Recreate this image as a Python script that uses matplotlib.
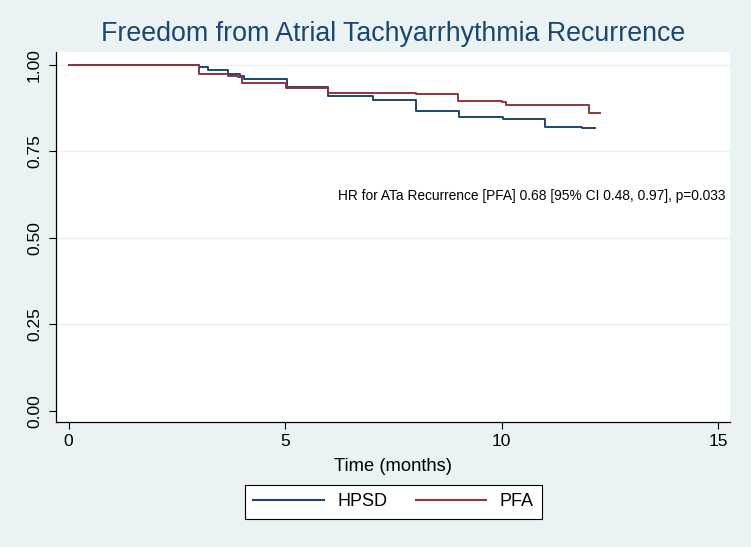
import matplotlib
matplotlib.use("Agg")
import matplotlib.pyplot as plt

plt.rcParams['font.family'] = ['Liberation Sans', 'DejaVu Sans']

# Data (Kaplan-Meier step curves)
hpsd_t = [0, 3.0, 3.21, 3.69, 3.96, 4.04, 5.04, 6.0, 7.02, 8.03, 9.01, 10.02, 11.01, 11.85, 12.16]
hpsd_s = [1.0, 0.994, 0.985, 0.975, 0.969, 0.959, 0.936, 0.909, 0.899, 0.866, 0.851, 0.845, 0.822, 0.818, 0.818]
pfa_t = [0, 3.01, 3.68, 3.92, 4.0, 5.02, 6.0, 8.03, 9.0, 10.0, 10.1, 11.7, 12.02, 12.26]
pfa_s = [1.0, 0.974, 0.969, 0.964, 0.947, 0.933, 0.920, 0.915, 0.895, 0.892, 0.885, 0.883, 0.861, 0.861]
series_names = ["HPSD", "PFA"]
xticks = [0, 5, 10, 15]
yticks = [0.00, 0.25, 0.50, 0.75, 1.00]
ytick_labels = ["0.00", "0.25", "0.50", "0.75", "1.00"]
title = "Freedom from Atrial Tachyarrhythmia Recurrence"
xlabel = "Time (months)"
note = "HR for ATa Recurrence [PFA] 0.68 [95% CI 0.48, 0.97], p=0.033"

bg = "#EAF2F3"
navy = "#1A476F"
maroon = "#90353B"

W, H = 751, 547
fig = plt.figure(figsize=(W / 100, H / 100), dpi=100, facecolor=bg)
L, R, T, B = 56, 730, 52, 422
ax = fig.add_axes([L / W, 1 - B / H, (R - L) / W, (B - T) / H])
ax.set_facecolor("white")

ax.set_xlim(-0.29, 15.27)
ax.set_ylim(-0.032, 1.0375)

for y in [0.25, 0.5, 0.75, 1.0]:
    ax.axhline(y, color=bg, lw=1.0, zorder=0)

l1, = ax.step(hpsd_t, hpsd_s, where='post', color=navy, lw=1.4, label=series_names[0])
l2, = ax.step(pfa_t, pfa_s, where='post', color=maroon, lw=1.4, label=series_names[1])

for s in ["top", "right"]:
    ax.spines[s].set_visible(False)
for s in ["left", "bottom"]:
    ax.spines[s].set_color("black")
    ax.spines[s].set_linewidth(0.9)

ax.set_xticks(xticks)
ax.set_yticks(yticks)
ax.set_yticklabels(ytick_labels, rotation=90, va="center")
ax.tick_params(axis="both", direction="out", length=5, width=0.8, labelsize=12.5, colors="black")
ax.tick_params(axis="y", pad=5)
ax.tick_params(axis="x", pad=4)

ax.set_xlabel(xlabel, fontsize=13.2, labelpad=6)
fig.text((L + R) / 2 / W, 1 - 34 / H, title, ha="center", va="center", fontsize=19.3, color=navy)

ax.text(15.16, 0.622, note, ha="right", va="center", fontsize=9.9, color="black")

leg = fig.legend(handles=[l1, l2], loc="center", bbox_to_anchor=((244 + 543) / 2 / W, 1 - 502 / H),
                 ncol=2, frameon=True, fancybox=False, fontsize=13, handlelength=3.9,
                 handletextpad=0.75, columnspacing=1.6, borderpad=0.45, borderaxespad=0,
                 edgecolor="black", framealpha=1)
leg.get_frame().set_linewidth(0.8)
for h in leg.get_lines():
    h.set_linewidth(1.5)

fig.savefig("out.png", dpi=100, facecolor=bg)
